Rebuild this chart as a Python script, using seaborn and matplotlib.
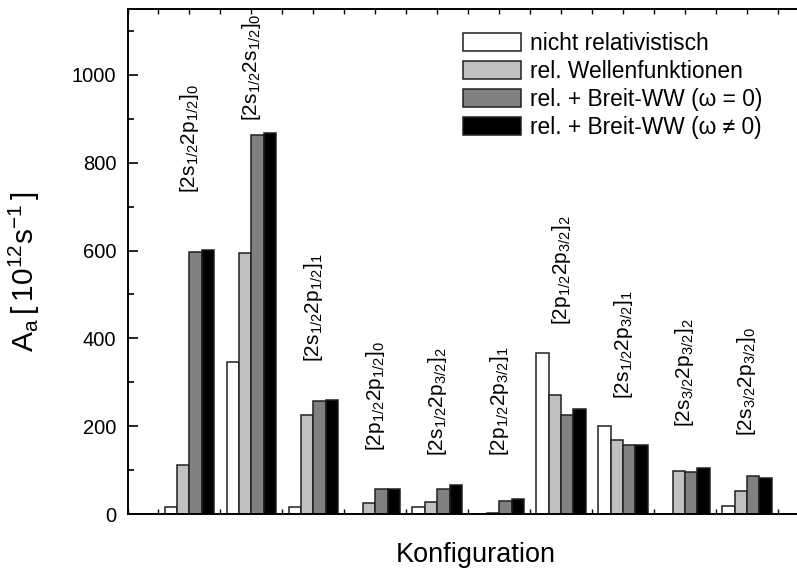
import matplotlib
matplotlib.use("Agg")
import matplotlib.pyplot as plt
from matplotlib.ticker import MultipleLocator, NullFormatter
import numpy as np
import pandas as pd
import seaborn as sns

# Configurations (jj-coupled two-electron states)
categories = [
    r"$\mathregular{[2s_{1/2}2p_{1/2}]_0}$",
    r"$\mathregular{[2s_{1/2}2s_{1/2}]_0}$",
    r"$\mathregular{[2s_{1/2}2p_{1/2}]_1}$",
    r"$\mathregular{[2p_{1/2}2p_{1/2}]_0}$",
    r"$\mathregular{[2s_{1/2}2p_{3/2}]_2}$",
    r"$\mathregular{[2p_{1/2}2p_{3/2}]_1}$",
    r"$\mathregular{[2p_{1/2}2p_{3/2}]_2}$",
    r"$\mathregular{[2s_{1/2}2p_{3/2}]_1}$",
    r"$\mathregular{[2s_{3/2}2p_{3/2}]_2}$",
    r"$\mathregular{[2s_{3/2}2p_{3/2}]_0}$",
]

methods = [
    "nicht relativistisch",
    "rel. Wellenfunktionen",
    "rel. + Breit-WW (\u03c9 = 0)",
    "rel. + Breit-WW (\u03c9 \u2260 0)",
]

# Auger rates A_a in 10^12 s^-1
nonrel = [15, 347, 15, 0, 16, 1, 367, 200, 0, 18]
rel_wf = [112, 594, 226, 25, 27, 2, 270, 168, 97, 53]
breit_w0 = [596, 864, 258, 57, 58, 30, 225, 157, 95, 86]
breit_w = [602, 868, 260, 58, 65, 35, 238, 157, 104, 83]

colors = ["#ffffff", "#c0c0c0", "#808080", "#000000"]

df = pd.DataFrame({
    "Konfiguration": np.tile(categories, 4),
    "Methode": np.repeat(methods, len(categories)),
    "A": np.concatenate([nonrel, rel_wf, breit_w0, breit_w]),
})

sns.set_style("white")
plt.rcParams["font.family"] = ["Liberation Sans", "DejaVu Sans"]
plt.rcParams["mathtext.fontset"] = "custom"
plt.rcParams["mathtext.rm"] = "Liberation Sans"
for key in ("text.color", "axes.labelcolor", "xtick.color", "ytick.color"):
    plt.rcParams[key] = "black"

W, H = 797, 571
fig = plt.figure(figsize=(W / 100, H / 100), dpi=100)
ax = fig.add_axes([127.5 / W, 57 / H, 1 - 127.5 / W, (514 - 9) / H])

sns.barplot(
    data=df, x="Konfiguration", y="A", hue="Methode",
    order=categories, hue_order=methods, palette=colors,
    saturation=1, width=0.8, edgecolor="#202020", linewidth=1.1,
    errorbar=None, ax=ax, legend=False,
)

ax.set_xlim(-1, (W - 127.5) / 61.94 - 1)
ax.set_ylim(0, 1150)

# axes frame: left, bottom and top; right side runs off the page
for side in ("left", "bottom", "top"):
    ax.spines[side].set_visible(True)
    ax.spines[side].set_linewidth(1.4)
    ax.spines[side].set_color("black")
ax.spines["right"].set_visible(False)

ax.xaxis.set_major_locator(MultipleLocator(0.5))
ax.xaxis.set_major_formatter(NullFormatter())
ax.tick_params(axis="x", which="major", direction="in", length=3.5, width=1.0,
               bottom=True, top=True, color="black")
ax.yaxis.set_major_locator(MultipleLocator(200))
ax.yaxis.set_minor_locator(MultipleLocator(100))
ax.tick_params(axis="y", which="major", direction="in", length=7, width=1.2,
               left=True, right=False, labelsize=14.5, pad=8, color="black",
               labelcolor="black")
ax.tick_params(axis="y", which="minor", direction="in", length=4, width=1.2,
               left=True, right=False, color="black")

ax.set_xlabel("Konfiguration", fontsize=19.5, labelpad=0, color="black")
ax.xaxis.set_label_coords((476 - 127.5) / (W - 127.5), -0.056)
ax.set_ylabel(r"$\mathregular{A_a\,[\,10^{12}s^{-1}\,]}$", fontsize=21.5,
              color="black")
ax.yaxis.set_label_coords(-0.128, 0.48)

# configuration labels standing above each group
label_base = [730, 896, 345, 143, 132, 132, 431, 261, 197, 177]
for i, (cat, yb) in enumerate(zip(categories, label_base)):
    ax.text(i, yb, cat, rotation=90, ha="center", va="bottom", fontsize=15,
            color="black")

leg = ax.legend(
    ax.containers, methods, loc="upper left",
    bbox_to_anchor=((463 - 127.5) / (W - 127.5), 1 - (32 - 9) / (514 - 9)),
    frameon=False, fontsize=16.4, handlelength=2.55, handleheight=0.85,
    handletextpad=0.4, labelspacing=0.22, borderpad=0, borderaxespad=0,
)
for t in leg.get_texts():
    t.set_color("black")

fig.savefig("out.png", dpi=100)
